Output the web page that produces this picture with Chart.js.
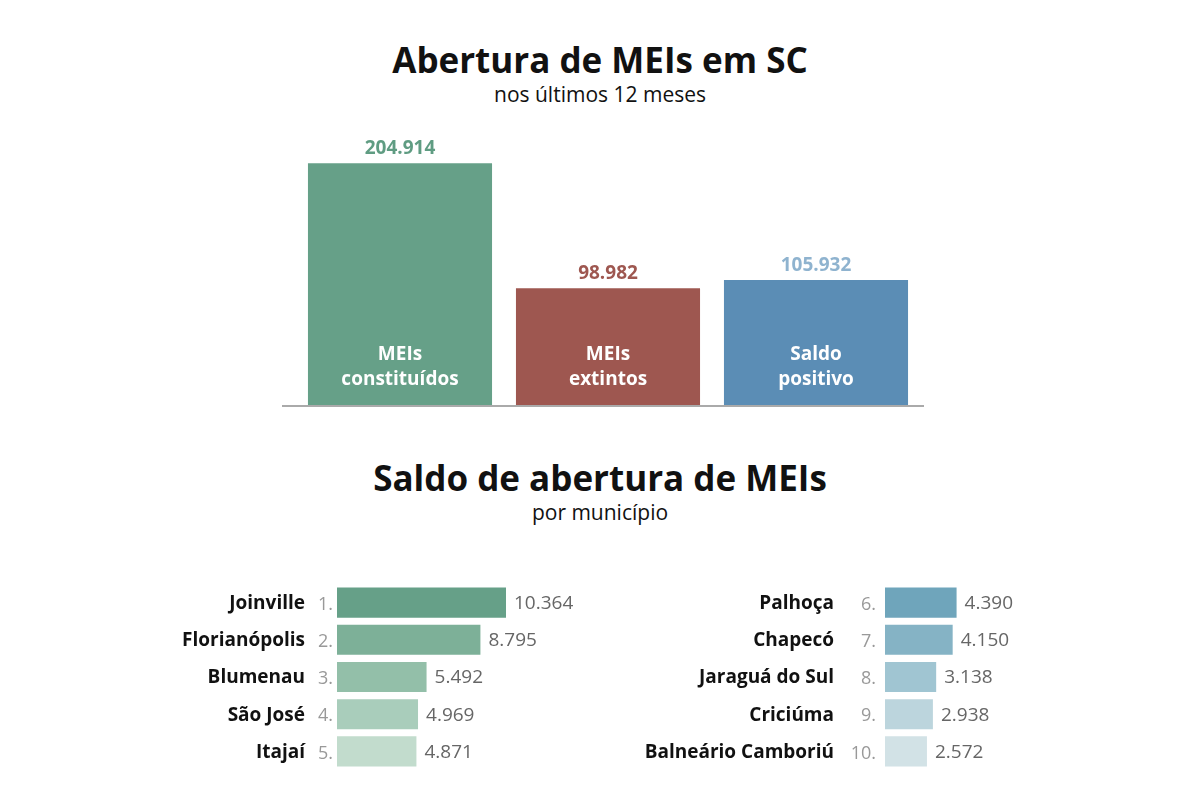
<!DOCTYPE html><html><head><meta charset="utf-8">
<script src="https://cdn.jsdelivr.net/npm/chart.js@4"></script>
<style>
body{margin:0;width:1200px;height:800px;background:#fff;position:relative;font-family:"Open Sans",sans-serif;overflow:hidden}
.t{position:absolute;left:0;width:1200px;text-align:center;color:#111}
.h{font-weight:700;font-size:35px}
.s{font-size:21px}
canvas{position:absolute}
</style></head><body>
<div class="t h" style="top:36px">Abertura de MEIs em SC</div>
<div class="t s" style="top:80px">nos últimos 12 meses</div>
<div class="t h" style="top:454px">Saldo de abertura de MEIs</div>
<div class="t s" style="top:498px">por município</div>
<div style="position:absolute;left:282px;top:405px;width:642px;height:2px;background:#aaa"></div>
<div style="position:absolute;left:296px;top:130px;width:624px;height:275px"><canvas id="c1"></canvas></div>
<div style="position:absolute;left:150px;top:584px;width:450px;height:186px"><canvas id="c2"></canvas></div>
<div style="position:absolute;left:600px;top:584px;width:450px;height:186px"><canvas id="c3"></canvas></div>
<script>
const topCats=[["MEIs","constituídos"],["MEIs","extintos"],["Saldo","positivo"]];
const topVals=[204914,98982,105932];
const topColors=["#66a088","#9e5750","#5b8db5"];
const topLabelColors=["#5f9c82","#9e5750","#8fb3cf"];
const leftNames=["Joinville","Florianópolis","Blumenau","São José","Itajaí"];
const leftVals=[10364,8795,5492,4969,4871];
const leftColors=["#66a088","#7db098","#93bfa9","#a9cdbb","#c2dccd"];
const rightNames=["Palhoça","Chapecó","Jaraguá do Sul","Criciúma","Balneário Camboriú"];
const rightVals=[4390,4150,3138,2938,2572];
const rightColors=["#6fa5bb","#85b3c5","#a0c5d2","#bcd5dd","#d2e2e6"];
const F='"Open Sans",sans-serif';
const fmt=v=>v.toLocaleString('de-DE');
Chart.defaults.animation=false;
Chart.defaults.maintainAspectRatio=false;
new Chart(document.getElementById('c1'),{type:'bar',
 data:{labels:topCats.map(c=>c.join(' ')),datasets:[{data:topVals,backgroundColor:topColors,barPercentage:0.885,categoryPercentage:1}]},
 options:{plugins:{legend:{display:false},tooltip:{enabled:false}},
  scales:{x:{display:false},y:{display:false,min:0,max:233000}}},
 plugins:[{id:'t',afterDatasetsDraw(ch){const c=ch.ctx;const m=ch.getDatasetMeta(0);
  m.data.forEach((b,i)=>{c.save();c.textAlign='center';
   c.font='700 19px '+F;c.fillStyle=topLabelColors[i];c.fillText(fmt(topVals[i]),b.x,b.y-9);
   c.fillStyle='#fff';c.font='700 19px '+F;c.fillText(topCats[i][0],b.x,ch.chartArea.bottom-45);c.fillText(topCats[i][1],b.x,ch.chartArea.bottom-20);c.restore();});}}]});
function hbar(id,names,vals,cols,start,padL,max,nameOff,rankOff){
 new Chart(document.getElementById(id),{type:'bar',
  data:{labels:names,datasets:[{data:vals,backgroundColor:cols,barPercentage:0.81,categoryPercentage:1}]},
  options:{indexAxis:'y',layout:{padding:{left:padL}},plugins:{legend:{display:false},tooltip:{enabled:false}},
   scales:{x:{display:false,min:0,max:max},y:{display:false}}},
  plugins:[{id:'l',afterDatasetsDraw(ch){const c=ch.ctx;const L=ch.chartArea.left;
   ch.getDatasetMeta(0).data.forEach((b,i)=>{c.save();c.textBaseline='middle';
    c.textAlign='right';c.font='700 19px '+F;c.fillStyle='#111';c.fillText(names[i],L-nameOff,b.y+1);
    c.font='400 18px '+F;c.fillStyle='#999';c.fillText((start+i)+'.',L-rankOff,b.y+2);
    c.textAlign='left';c.font='500 19px '+F;c.fillStyle='#666';c.fillText(fmt(vals[i]),b.x+8,b.y+1);c.restore();});}}]});
}
const pxPer=169/10364;
hbar('c2',leftNames,leftVals,leftColors,1,187,(450-187)/pxPer,32,4);
hbar('c3',rightNames,rightVals,rightColors,6,285,(450-285)/pxPer,51,9);
</script></body></html>
